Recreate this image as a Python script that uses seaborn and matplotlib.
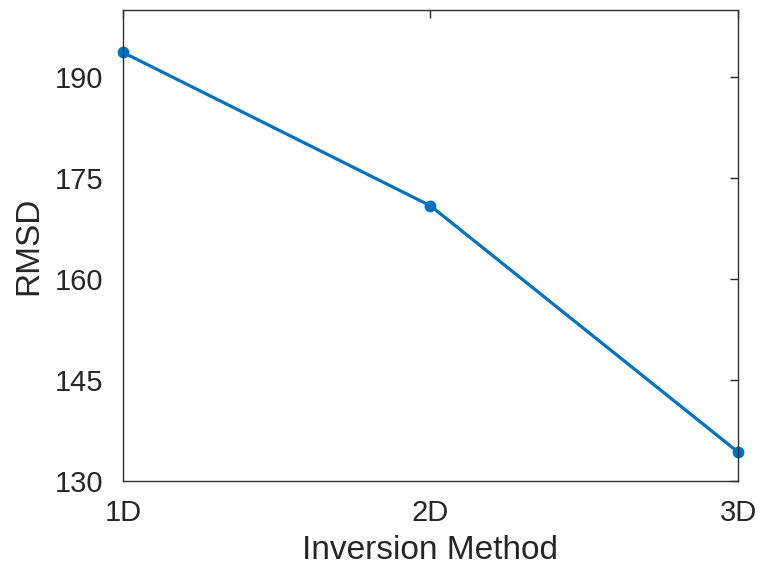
import matplotlib
matplotlib.use("Agg")
import matplotlib.pyplot as plt
import seaborn as sns
import pandas as pd

# datos
metodos = ["1D", "2D", "3D"]
rmsd = [193.7, 170.9, 134.3]
yticks = [130, 145, 160, 175, 190]

df = pd.DataFrame({"metodo": metodos, "rmsd": rmsd})

sns.set_style("white")
plt.rcParams["font.family"] = ["Liberation Sans", "DejaVu Sans"]

fig = plt.figure(figsize=(7.61, 5.72), dpi=100)
ax = fig.add_axes([0.1616, 0.1591, 0.8082, 0.8234])

sns.lineplot(data=df, x="metodo", y="rmsd", ax=ax, color="#0072BD",
             linewidth=2.3, marker="o", markersize=8.5, markeredgewidth=0,
             clip_on=False)

ax.set_xlim(0, 2)
ax.set_ylim(130, 200)
ax.set_yticks(yticks)
ax.set_xlabel("Inversion Method", fontsize=24, color="#262626", labelpad=6)
ax.set_ylabel("RMSD", fontsize=24, color="#262626", labelpad=8)

ax.tick_params(direction="in", length=6, width=1, colors="#262626",
               labelsize=21, top=True, right=True, labelcolor="#262626")
ax.tick_params(axis="y", pad=14)
ax.tick_params(axis="x", pad=13)
for s in ax.spines.values():
    s.set_visible(True)
    s.set_color("#303030")
    s.set_linewidth(1)

fig.savefig("out.png", dpi=100)
